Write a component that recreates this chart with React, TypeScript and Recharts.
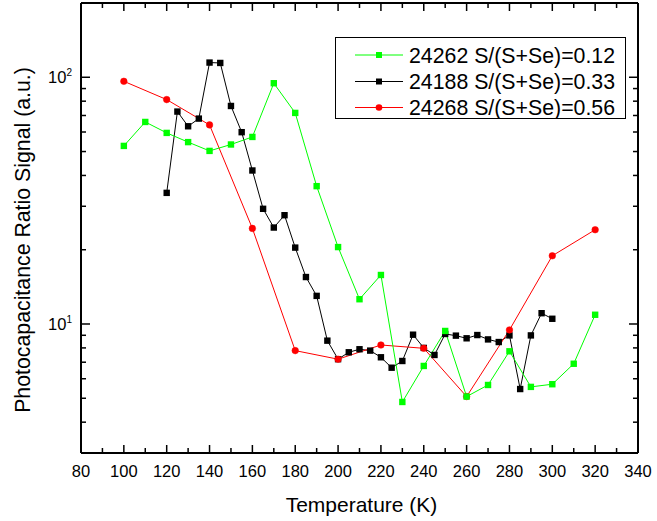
import React from 'react';
import { LineChart, Line, XAxis, YAxis, Legend } from 'recharts';

const FONT = '"Liberation Sans", Arial, Helvetica, sans-serif';

// 24262 S/(S+Se)=0.12 (green)
const greenTemps = [100, 110, 120, 130, 140, 150, 160, 170, 180, 190, 200, 210, 220, 230, 240, 250, 260, 270, 280, 290, 300, 310, 320];
const greenValues = [52.7, 65.9, 59.5, 54.6, 50.3, 53.4, 57.3, 94.6, 71.7, 36.2, 20.5, 12.6, 15.8, 4.83, 6.76, 9.37, 5.08, 5.66, 7.75, 5.56, 5.7, 6.9, 10.9];

// 24188 S/(S+Se)=0.33 (black)
const blackTemps = [120, 125, 130, 135, 140, 145, 150, 155, 160, 165, 170, 175, 180, 185, 190, 195, 200, 205, 210, 215, 220, 225, 230, 235, 240, 245, 250, 255, 260, 265, 270, 275, 280, 285, 290, 295, 300];
const blackValues = [34.0, 72.6, 63.3, 68.0, 114.7, 114.3, 76.5, 59.9, 41.9, 29.3, 24.6, 27.6, 20.4, 15.5, 13.0, 8.56, 7.2, 7.68, 7.9, 7.8, 7.33, 6.65, 7.08, 9.05, 8.0, 7.49, 9.11, 8.97, 8.75, 9.02, 8.66, 8.45, 8.99, 5.45, 8.99, 11.06, 10.5];

// 24268 S/(S+Se)=0.56 (red)
const redTemps = [100, 120, 140, 160, 180, 200, 220, 240, 260, 280, 300, 320];
const redValues = [96.3, 81.2, 64.1, 24.4, 7.8, 7.2, 8.22, 7.97, 5.08, 9.46, 18.9, 24.1];

const seriesNames = ['24262 S/(S+Se)=0.12', '24188 S/(S+Se)=0.33', '24268 S/(S+Se)=0.56'];
const seriesColors = ['#00ff00', '#000000', '#ff0000'];
const seriesShapes = ['square', 'square', 'circle'];

const xTicks = [80, 90, 100, 110, 120, 130, 140, 150, 160, 170, 180, 190, 200, 210, 220, 230, 240, 250, 260, 270, 280, 290, 300, 310, 320, 330, 340];
const xLabelTicks = [80, 100, 120, 140, 160, 180, 200, 220, 240, 260, 280, 300, 320, 340];
const yTicks = [4, 5, 6, 7, 8, 9, 10, 20, 30, 40, 50, 60, 70, 80, 90, 100];
const yMajorTicks = [10, 100];
const yMajorExp: Record<number, string> = { 10: '1', 100: '2' };

const toData = (ts: number[], vs: number[]) => ts.map((t, i) => ({ t, v: vs[i] }));
const greenData = toData(greenTemps, greenValues);
const blackData = toData(blackTemps, blackValues);
const redData = toData(redTemps, redValues);

const TICK_W = 1.5;

const XTickBottom = (props: any) => {
  const { x, y, payload } = props;
  const major = xLabelTicks.includes(payload.value);
  return (
    <g>
      <line x1={x} x2={x} y1={y} y2={y - (major ? 8 : 5)} stroke="#000" strokeWidth={TICK_W} />
      {major && (
        <text x={x} y={y + 24} textAnchor="middle" fontSize={16.5} fontFamily={FONT} fill="#000">
          {payload.value}
        </text>
      )}
    </g>
  );
};

const XTickTop = (props: any) => {
  const { x, y, payload } = props;
  const major = xLabelTicks.includes(payload.value);
  return <line x1={x} x2={x} y1={y} y2={y + (major ? 8 : 5)} stroke="#000" strokeWidth={TICK_W} />;
};

const YTickLeft = (props: any) => {
  const { x, y, payload } = props;
  const major = yMajorTicks.includes(payload.value);
  return (
    <g>
      <line x1={x} x2={x + (major ? 9 : 5)} y1={y} y2={y} stroke="#000" strokeWidth={TICK_W} />
      {major && (
        <text x={x - 9} y={y + 6} textAnchor="end" fontSize={16.5} fontFamily={FONT} fill="#000">
          <tspan>10</tspan>
          <tspan dy={-7} fontSize={10}>{yMajorExp[payload.value]}</tspan>
        </text>
      )}
    </g>
  );
};

const YTickRight = (props: any) => {
  const { x, y, payload } = props;
  const major = yMajorTicks.includes(payload.value);
  return <line x1={x} x2={x - (major ? 9 : 5)} y1={y} y2={y} stroke="#000" strokeWidth={TICK_W} />;
};

const XTitle = (props: any) => {
  const vb = props.viewBox;
  return (
    <text x={vb.x + vb.width / 2 + 2} y={vb.y + 59} textAnchor="middle" fontSize={21} fontFamily={FONT} fill="#000">
      Temperature (K)
    </text>
  );
};

const YTitle = (props: any) => {
  const vb = props.viewBox;
  const cx = 30;
  const cy = vb.y + vb.height / 2 + 12;
  return (
    <text x={cx} y={cy} transform={`rotate(-90 ${cx} ${cy})`} textAnchor="middle" fontSize={21.3} fontFamily={FONT} fill="#000">
      Photocapacitance Ratio Signal (a.u.)
    </text>
  );
};

const makeDot = (color: string, shape: string) => (p: any) => {
  const { cx, cy, index } = p;
  if (cx == null || cy == null) return <g key={index} />;
  if (shape === 'circle') {
    return <circle key={index} cx={cx} cy={cy} r={3.3} fill={color} stroke={color} strokeWidth={0.5} />;
  }
  return <rect key={index} x={cx - 3.2} y={cy - 3.2} width={6.4} height={6.4} fill={color} />;
};

const renderLegend = () => {
  const rows = [18, 44.5, 70.5];
  return (
    <svg width={291} height={82} style={{ display: 'block' }}>
      <rect x={0.5} y={0.5} width={290} height={81} fill="#fff" stroke="#000" strokeWidth={1} />
      {seriesNames.map((name, i) => (
        <g key={name}>
          <line x1={20} x2={68} y1={rows[i]} y2={rows[i]} stroke={seriesColors[i]} strokeWidth={1} />
          {seriesShapes[i] === 'circle' ? (
            <circle cx={44} cy={rows[i]} r={3.3} fill={seriesColors[i]} />
          ) : (
            <rect x={41} y={rows[i] - 3} width={6} height={6} fill={seriesColors[i]} />
          )}
          <text x={74} y={rows[i] + 7.6} fontSize={21.3} fontFamily={FONT} fill="#000">
            {name}
          </text>
        </g>
      ))}
    </svg>
  );
};

export default function App() {
  return (
    <div style={{ position: 'absolute', left: 0, top: 0, background: '#fff' }}>
      <LineChart width={657} height={521} margin={{ top: 2, right: 0, bottom: 0, left: 0 }}>
        <XAxis
          xAxisId="bottom"
          dataKey="t"
          type="number"
          domain={[80, 340]}
          allowDataOverflow
          ticks={xTicks}
          interval={0}
          orientation="bottom"
          height={68}
          tickSize={0}
          tickMargin={0}
          tickLine={false}
          axisLine={{ stroke: '#000', strokeWidth: 2 }}
          tick={<XTickBottom />}
          label={<XTitle />}
        />
        <XAxis
          xAxisId="top"
          dataKey="t"
          type="number"
          domain={[80, 340]}
          allowDataOverflow
          ticks={xTicks}
          interval={0}
          orientation="top"
          height={1}
          tickSize={0}
          tickMargin={0}
          tickLine={false}
          axisLine={{ stroke: '#000', strokeWidth: 2 }}
          tick={<XTickTop />}
        />
        <YAxis
          yAxisId="left"
          scale="log"
          type="number"
          domain={[3, 200]}
          allowDataOverflow
          ticks={yTicks}
          interval={0}
          orientation="left"
          width={81}
          tickSize={0}
          tickMargin={0}
          tickLine={false}
          axisLine={{ stroke: '#000', strokeWidth: 2 }}
          tick={<YTickLeft />}
          label={<YTitle />}
        />
        <YAxis
          yAxisId="right"
          scale="log"
          type="number"
          domain={[3, 200]}
          allowDataOverflow
          ticks={yTicks}
          interval={0}
          orientation="right"
          width={19}
          tickSize={0}
          tickMargin={0}
          tickLine={false}
          axisLine={{ stroke: '#000', strokeWidth: 2 }}
          tick={<YTickRight />}
        />
        <Legend
          verticalAlign="middle"
          align="center"
          layout="horizontal"
          content={renderLegend}
          wrapperStyle={{ position: 'absolute', left: 335, top: 37, width: 291, height: 82 }}
        />
        <Line
          xAxisId="bottom"
          yAxisId="left"
          data={blackData}
          dataKey="v"
          name={seriesNames[1]}
          stroke={seriesColors[1]}
          strokeWidth={1}
          dot={makeDot(seriesColors[1], seriesShapes[1])}
          isAnimationActive={false}
        />
        <Line
          xAxisId="bottom"
          yAxisId="left"
          data={redData}
          dataKey="v"
          name={seriesNames[2]}
          stroke={seriesColors[2]}
          strokeWidth={1}
          dot={makeDot(seriesColors[2], seriesShapes[2])}
          isAnimationActive={false}
        />
        <Line
          xAxisId="bottom"
          yAxisId="left"
          data={greenData}
          dataKey="v"
          name={seriesNames[0]}
          stroke={seriesColors[0]}
          strokeWidth={1}
          dot={makeDot(seriesColors[0], seriesShapes[0])}
          isAnimationActive={false}
        />
      </LineChart>
    </div>
  );
}
